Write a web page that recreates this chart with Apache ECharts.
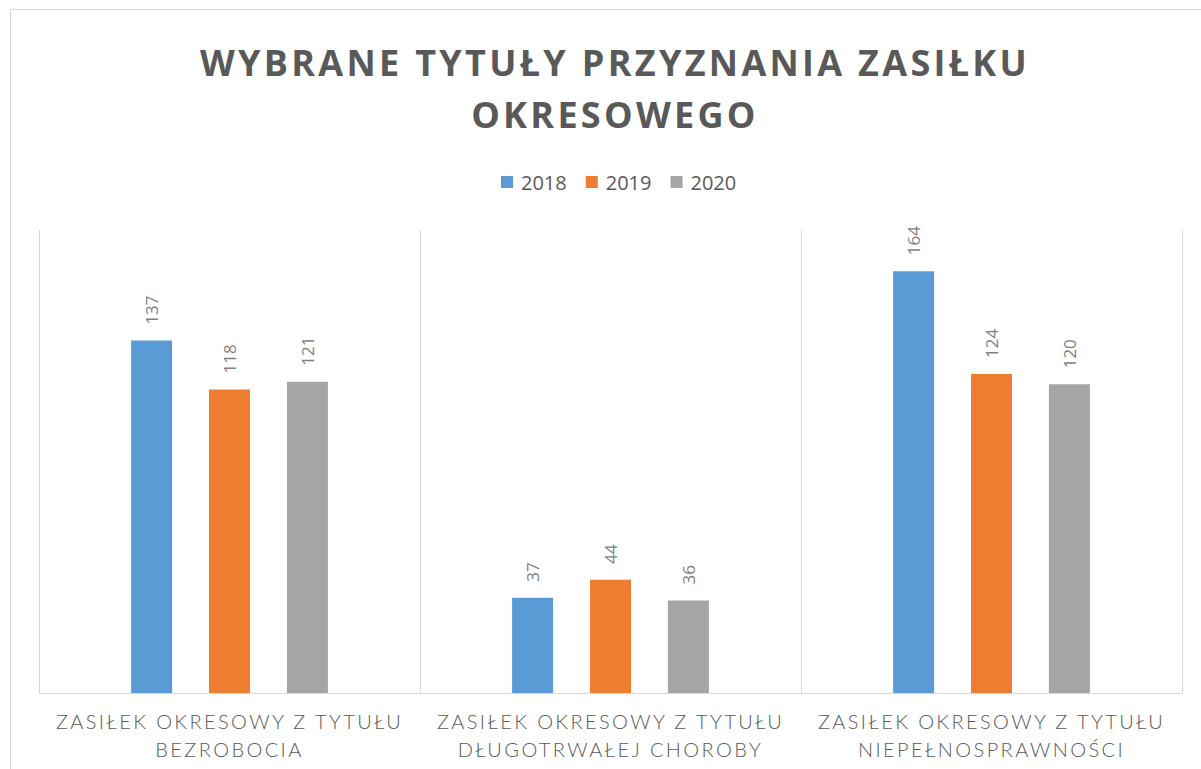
<!DOCTYPE html>
<html><head><meta charset="utf-8">
<script src="https://cdn.jsdelivr.net/npm/echarts@6/dist/echarts.min.js"></script>
<style>
html,body{margin:0;padding:0;background:#fff;}
#chart{width:1201px;height:769px;}
</style>
</head><body>
<div id="chart"></div>
<script>
const categories = ['ZASIŁEK OKRESOWY Z TYTUŁU\nBEZROBOCIA', 'ZASIŁEK OKRESOWY Z TYTUŁU\nDŁUGOTRWAŁEJ CHOROBY', 'ZASIŁEK OKRESOWY Z TYTUŁU\nNIEPEŁNOSPRAWNOŚCI'];
const seriesNames = ['2018', '2019', '2020'];
const values2018 = [137, 37, 164];
const values2019 = [118, 44, 124];
const values2020 = [121, 36, 120];
const colors = ['#5B9BD5', '#ED7D31', '#A5A5A5'];

const chart = echarts.init(document.getElementById('chart'), null, {renderer: 'svg'});
const labelCfg = {
  show: true, position: 'top', rotate: 90, align: 'left', verticalAlign: 'middle',
  distance: 16, color: '#7f7f7f', fontSize: 17, fontFamily: 'Open Sans'
};
const mk = (name, data, i) => ({
  name, type: 'bar', data, barWidth: 41, barGap: '90%',
  itemStyle: {color: colors[i]}, label: labelCfg
});
chart.setOption({
  animation: false,
  title: {
    text: 'WYBRANE TYTUŁY PRZYZNANIA ZASIŁKU\nOKRESOWEGO',
    left: 610, textAlign: 'center', top: 31,
    textStyle: {fontFamily: 'Open Sans', fontWeight: 'bold', fontSize: 36, lineHeight: 52, color: '#595959'}
  },
  legend: {
    top: 167, left: 496, itemWidth: 12, itemHeight: 12, itemGap: 19, icon: 'rect',
    textStyle: {fontFamily: 'Open Sans', fontSize: 20, color: '#595959', padding: [0, 0, 0, 3]},
    data: seriesNames
  },
  graphic: [{type: 'rect', shape: {x: 10.5, y: 9.5, width: 1200, height: 770}, style: {fill: 'none', stroke: '#d9d9d9', lineWidth: 1}, silent: true}],
  grid: {left: 39, right: 19, top: 230, bottom: 76},
  xAxis: {
    type: 'category', data: categories,
    axisLine: {lineStyle: {color: '#d9d9d9'}},
    axisTick: {show: false},
    splitLine: {show: true, lineStyle: {color: '#d9d9d9'}},
    axisLabel: {color: '#595959', fontFamily: 'Lato', fontWeight: 300, fontSize: 20, lineHeight: 28, margin: 14, interval: 0}
  },
  yAxis: {type: 'value', min: 0, max: 180, show: false, splitLine: {show: false}},
  series: [mk(seriesNames[0], values2018, 0), mk(seriesNames[1], values2019, 1), mk(seriesNames[2], values2020, 2)]
});
function spacing(){
  document.querySelectorAll('#chart svg text').forEach(t => {
    const s = t.textContent || '';
    if (/ZASIŁEK|BEZROBOCIA|DŁUGOTRWAŁEJ|NIEPEŁNOSPRAWNOŚCI/.test(s)) t.style.letterSpacing = '2.4px';
    else if (/WYBRANE|OKRESOWEGO/.test(s)) t.style.letterSpacing = '3.3px';
  });
}
spacing();
chart.on('finished', spacing);
</script>
</body></html>
